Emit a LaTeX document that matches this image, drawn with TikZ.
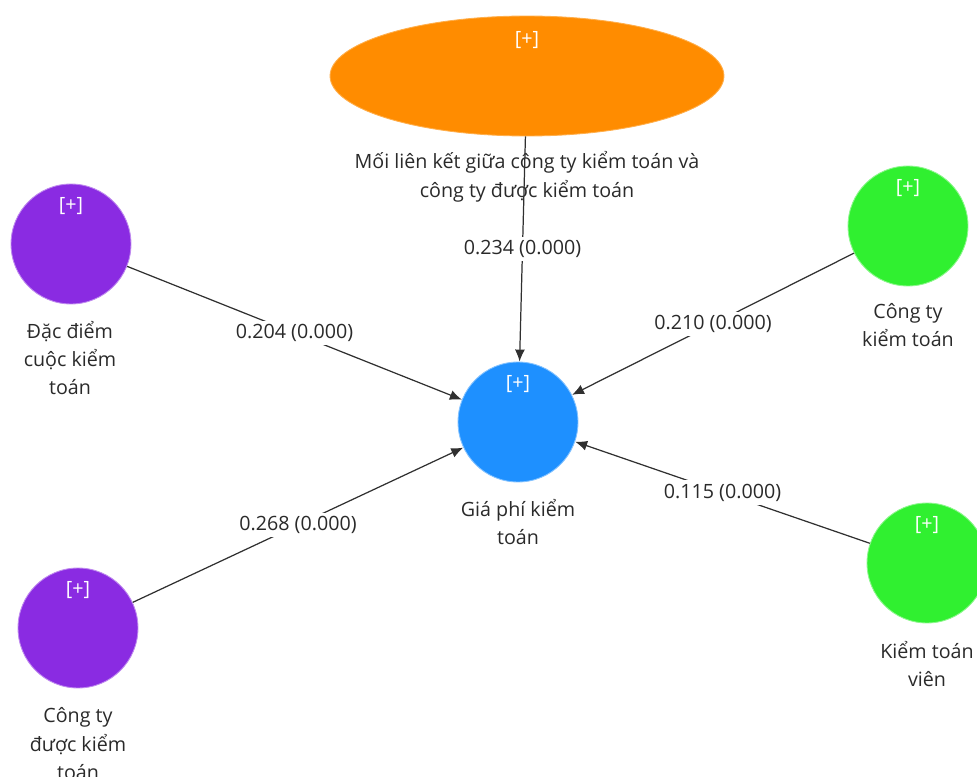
\documentclass[tikz,border=0pt]{standalone}
\usepackage{fontspec}
\setmainfont{Open Sans}
\usetikzlibrary{arrows.meta,positioning,shapes.geometric}
\definecolor{cOr}{HTML}{FF8C00}
\definecolor{cPu}{HTML}{8A2BE2}
\definecolor{cBl}{HTML}{1E90FF}
\definecolor{cGr}{HTML}{30F030}
\definecolor{cLn}{HTML}{303030}
\definecolor{cTx}{HTML}{2A2A2A}
\newcommand\lvfont{\fontsize{11.2}{16.2}\selectfont}
\tikzset{
  lv/.style={circle,fill=#1,draw=#1!55!white,line width=0.5pt,
             minimum size=2.4cm,inner sep=0pt},
  blob/.style={ellipse,fill=cOr,draw=cOr!70!white,line width=0.5pt,
               minimum width=7.88cm,minimum height=2.4cm,inner sep=0pt},
  plus/.style={text=white,font=\lvfont,inner sep=1pt},
  lvname/.style={align=center,text=cTx,font=\lvfont,inner sep=1pt},
  wt/.style={fill=white,text=cTx,font=\lvfont,inner sep=2pt},
  rel/.style={-{Latex[length=2.4mm,width=2mm]},line width=0.7pt,cLn},
}

\begin{document}
\begin{tikzpicture}[x=0.02cm,y=-0.02cm]
  \useasboundingbox (0,0) rectangle (977,777);
  % latent variables
  \node[blob] (mlk) at (527,76) {};
  \node[lv=cBl] (gia) at (518,422) {};
  \node[lv=cPu] (dd) at (71,244) {};
  \node[lv=cPu] (ctd) at (78,628) {};
  \node[lv=cGr] (ctk) at (908,226) {};
  \node[lv=cGr] (ktv) at (927,563) {};
  \node[plus] (mlk-p) at ([yshift=20.4pt]mlk.center) {[+]};
  \foreach \n in {gia,dd,ctd,ctk,ktv}{\node[plus] (\n-p) at ([yshift=21.5pt]\n.center) {[+]};}
  % names under the shapes
  \node[lvname] (mlk-t) at (527,177) {Mối liên kết giữa công ty kiểm toán và\\công ty được kiểm toán};
  \node[lvname] (gia-t) at (518,522) {Giá phí kiểm\\toán};
  \node[lvname] (dd-t) at (70,358) {Đặc điểm\\cuộc kiểm\\toán};
  \node[lvname] (ctd-t) at (78,744) {Công ty\\được kiểm\\toán};
  \node[lvname] (ctk-t) at (908,325) {Công ty\\kiểm toán};
  \node[lvname] (ktv-t) at (927,664) {Kiểm toán\\viên};
  % path coefficients
  \draw[rel] (mlk) -- node[wt]{0.234 (0.000)} (gia);
  \foreach \s/\w in {dd/0.204,ctd/0.268,ctk/0.210,ktv/0.115}
    \draw[rel] (\s) -- node[wt]{\w{} (0.000)} (gia);
\end{tikzpicture}
\end{document}
